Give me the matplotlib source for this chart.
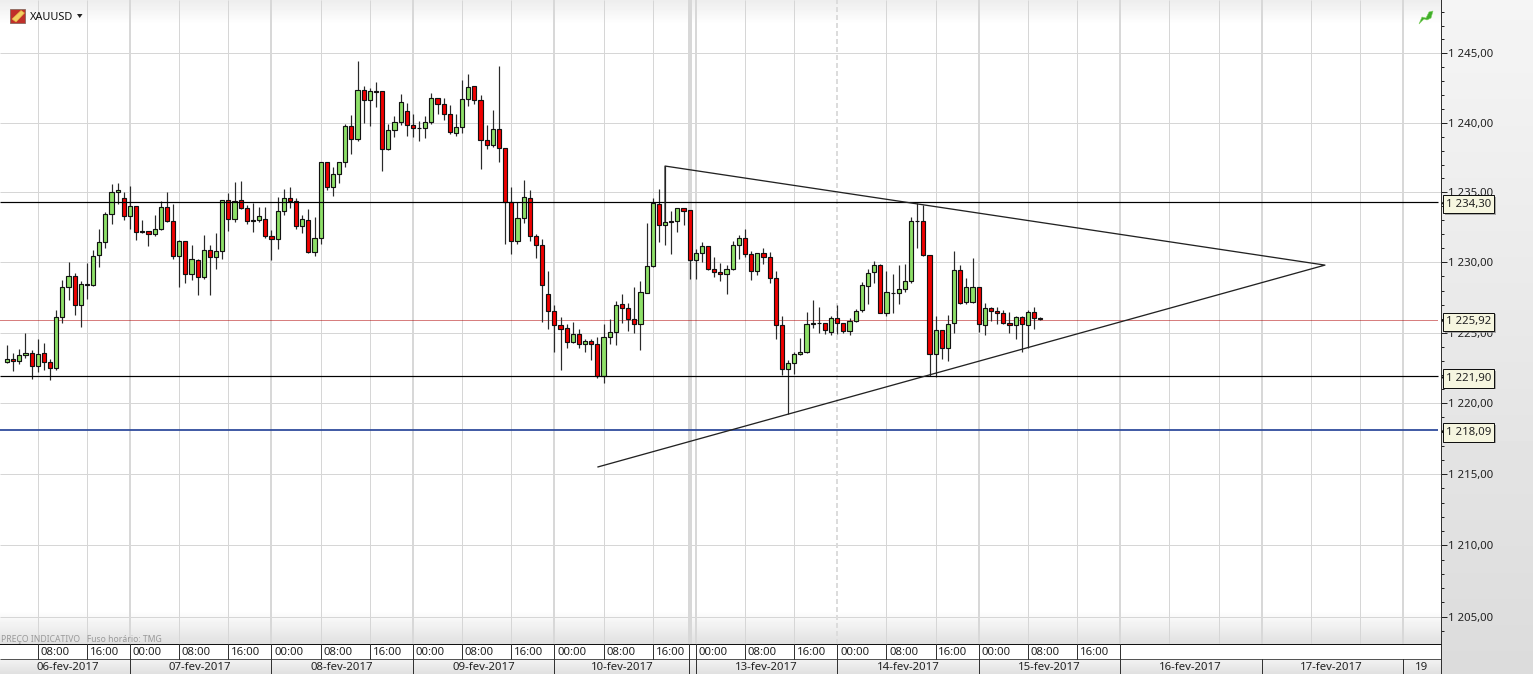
import matplotlib
matplotlib.use('Agg')
import matplotlib.pyplot as plt
import matplotlib.patches as mpatches
from matplotlib.ticker import NullFormatter
from matplotlib.transforms import blended_transform_factory
import numpy as np

plt.rcParams['font.family'] = ['Noto Sans', 'DejaVu Sans']

# hourly candles, G = up, R = down (market shut one hour a day, so 23 per day)
direction = ("GRGGRGRRGGGRGRGGGGGRGRRRGGRRGRGRGRGGRGRRRGRRGGRRGRGGRGG"
             "GRGRGRRGGGRRRGGRRRGGGRRRGRRRGGRRRRRRRGRGRRGGGRRRGGGRGRGRRG"
             "GRRRGGGRRGRRRRGGGGRRRGRRGGGGGRGRGGGRRRGRGGRGGRGRRRRGRGRR")

highs = [1224.11, 1223.59, 1223.87, 1224.96, 1223.78, 1224.54, 1224.25, 1223.12, 1226.60, 1228.73,
         1230.05, 1229.27, 1228.66, 1229.93, 1230.86, 1232.40, 1233.60, 1235.62, 1235.66, 1235.02,
         1235.45, 1234.03, 1233.04, 1232.25, 1233.39, 1234.36, 1235.02, 1234.17, 1231.62, 1231.54,
         1231.26, 1230.27, 1231.97, 1231.26, 1232.11, 1234.46, 1234.95, 1235.73, 1235.80, 1234.10,
         1234.24, 1233.96, 1233.96, 1232.28, 1234.67, 1235.26, 1235.38, 1234.60, 1233.39, 1233.82,
         1233.25, 1237.15, 1237.15, 1236.80, 1237.15, 1239.88, 1240.59, 1244.42, 1242.64, 1242.48,
         1242.90, 1242.27, 1239.92, 1240.49, 1242.05, 1241.41, 1240.63, 1240.14, 1240.49, 1242.12,
         1241.77, 1241.77, 1241.27, 1240.63, 1243.05, 1243.54, 1242.62, 1241.98, 1239.85, 1240.92,
         1244.11, 1238.22, 1235.38, 1234.34, 1235.88, 1235.17, 1232.06, 1231.69, 1229.41, 1226.99,
         1226.15, 1225.65, 1225.79, 1225.29, 1224.58, 1224.58, 1224.73, 1225.65, 1225.96, 1227.28,
         1227.78, 1227.14, 1228.28, 1228.70, 1232.82, 1234.60, 1235.24, 1236.87, 1233.67, 1233.89,
         1233.89, 1233.74, 1230.97, 1231.47, 1231.18, 1230.40, 1229.98, 1229.84, 1231.54, 1231.97,
         1232.39, 1230.83, 1230.69, 1231.04, 1230.76, 1229.41, 1226.21, 1223.09, 1223.66, 1224.65,
         1226.50, 1227.35, 1226.85, 1225.72, 1226.21, 1226.99, 1225.72, 1226.07, 1226.71, 1228.63,
         1229.55, 1230.12, 1229.89, 1229.41, 1229.20, 1229.84, 1229.91, 1233.24, 1234.24, 1234.10,
         1230.55, 1226.21, 1225.22, 1226.29, 1230.83, 1229.84, 1228.91, 1230.33, 1228.27, 1227.14,
         1226.85, 1226.85, 1226.64, 1226.50, 1226.21, 1226.21, 1226.64, 1226.85, 1226.14]

body_top = [1223.16, 1223.16, 1223.43, 1223.59, 1223.59, 1223.52, 1223.59, 1222.95, 1226.15, 1228.28,
            1229.06, 1229.06, 1228.49, 1228.49, 1230.48, 1231.47, 1233.46, 1235.02, 1235.17, 1234.57,
            1234.03, 1234.03, 1232.25, 1232.25, 1232.40, 1233.96, 1233.96, 1232.96, 1231.54, 1231.54,
            1230.27, 1230.20, 1230.91, 1230.91, 1230.83, 1234.46, 1234.46, 1234.39, 1234.46, 1233.89,
            1233.04, 1233.32, 1233.11, 1231.90, 1233.67, 1234.60, 1234.60, 1234.39, 1233.11, 1233.04,
            1231.76, 1237.15, 1237.15, 1236.30, 1237.15, 1239.78, 1239.78, 1242.34, 1242.34, 1242.27,
            1242.27, 1242.27, 1239.50, 1240.06, 1241.48, 1240.85, 1239.85, 1239.64, 1240.06, 1241.77,
            1241.77, 1241.34, 1240.63, 1239.71, 1241.70, 1242.55, 1242.62, 1241.63, 1238.79, 1239.57,
            1239.57, 1238.22, 1234.34, 1233.18, 1234.67, 1234.60, 1231.90, 1231.26, 1227.78, 1226.57,
            1225.58, 1225.37, 1224.94, 1224.94, 1224.44, 1224.44, 1224.23, 1224.73, 1225.08, 1227.00,
            1227.07, 1226.79, 1226.00, 1227.92, 1229.77, 1234.24, 1234.17, 1232.89, 1232.96, 1233.89,
            1233.89, 1233.74, 1230.69, 1231.18, 1231.18, 1229.55, 1229.34, 1229.55, 1231.26, 1231.75,
            1231.75, 1230.62, 1230.69, 1230.69, 1230.40, 1228.91, 1225.57, 1222.88, 1223.52, 1223.66,
            1225.65, 1225.72, 1225.72, 1225.72, 1226.07, 1226.07, 1225.72, 1225.86, 1226.57, 1228.42,
            1229.27, 1229.84, 1229.84, 1227.92, 1227.85, 1228.13, 1228.70, 1232.96, 1232.98, 1232.96,
            1230.55, 1225.22, 1225.22, 1225.65, 1229.48, 1229.48, 1228.27, 1228.27, 1228.27, 1226.78,
            1226.78, 1226.57, 1226.43, 1225.72, 1226.14, 1226.14, 1226.50, 1226.50, 1226.07]

body_bottom = [1222.95, 1223.02, 1223.02, 1223.43, 1222.64, 1222.64, 1222.95, 1222.50, 1222.50, 1226.15,
               1228.28, 1227.00, 1227.00, 1228.42, 1228.42, 1230.55, 1231.47, 1233.46, 1235.02, 1233.32,
               1233.32, 1232.18, 1232.18, 1232.04, 1232.04, 1232.40, 1232.96, 1230.48, 1230.48, 1229.20,
               1229.20, 1228.99, 1228.99, 1230.41, 1230.41, 1230.83, 1233.11, 1233.11, 1233.89, 1232.96,
               1232.96, 1233.04, 1231.90, 1231.69, 1231.69, 1233.67, 1234.39, 1232.61, 1232.61, 1230.76,
               1230.76, 1231.76, 1235.38, 1235.38, 1236.30, 1237.15, 1238.86, 1238.86, 1241.63, 1241.63,
               1242.20, 1238.08, 1238.08, 1239.50, 1240.06, 1239.85, 1239.64, 1239.62, 1239.64, 1240.06,
               1241.34, 1240.63, 1239.35, 1239.28, 1239.71, 1241.70, 1241.63, 1238.79, 1238.43, 1238.43,
               1238.22, 1234.34, 1231.54, 1231.54, 1233.18, 1231.90, 1231.26, 1228.42, 1226.57, 1225.58,
               1225.29, 1224.37, 1224.37, 1224.23, 1224.23, 1224.23, 1221.96, 1221.96, 1224.73, 1225.08,
               1226.79, 1226.00, 1225.65, 1225.65, 1227.85, 1229.77, 1232.68, 1232.68, 1232.89, 1232.96,
               1233.67, 1230.19, 1230.19, 1230.69, 1229.55, 1229.34, 1229.20, 1229.20, 1229.55, 1231.26,
               1230.62, 1229.41, 1229.41, 1230.40, 1228.91, 1225.57, 1222.45, 1222.45, 1222.88, 1223.52,
               1223.66, 1225.65, 1225.69, 1225.22, 1225.08, 1225.72, 1225.13, 1225.15, 1225.86, 1226.64,
               1228.34, 1229.34, 1226.43, 1226.43, 1227.82, 1227.85, 1228.13, 1228.70, 1232.94, 1230.55,
               1223.52, 1223.52, 1223.94, 1223.94, 1225.72, 1227.14, 1227.21, 1227.21, 1225.65, 1225.57,
               1226.57, 1226.40, 1225.72, 1225.57, 1225.57, 1225.65, 1225.57, 1226.07, 1226.00]

lows = [1222.83, 1222.29, 1222.81, 1223.19, 1221.74, 1222.22, 1222.36, 1221.65, 1222.36, 1225.72,
        1227.33, 1226.27, 1225.44, 1227.43, 1228.33, 1229.67, 1231.02, 1232.73, 1234.15, 1233.01,
        1232.37, 1231.59, 1232.09, 1231.17, 1231.90, 1232.33, 1232.89, 1230.27, 1228.25, 1228.54,
        1228.75, 1227.69, 1228.85, 1227.69, 1229.51, 1230.27, 1232.23, 1232.89, 1233.82, 1232.75,
        1232.16, 1232.87, 1231.76, 1230.17, 1230.95, 1233.39, 1233.89, 1232.40, 1232.09, 1230.67,
        1230.46, 1231.31, 1235.14, 1234.72, 1235.71, 1236.82, 1237.77, 1238.69, 1239.97, 1239.76,
        1241.11, 1236.56, 1238.01, 1238.98, 1239.83, 1239.05, 1238.98, 1238.69, 1238.90, 1239.92,
        1240.63, 1240.21, 1239.21, 1239.05, 1239.26, 1241.20, 1241.34, 1236.66, 1238.12, 1238.29,
        1237.20, 1231.33, 1230.62, 1231.33, 1232.82, 1231.52, 1230.31, 1225.79, 1225.29, 1223.66,
        1222.38, 1223.95, 1224.30, 1223.95, 1223.64, 1223.07, 1221.79, 1221.44, 1224.21, 1224.14,
        1225.72, 1225.15, 1225.01, 1223.80, 1227.85, 1229.70, 1231.45, 1231.24, 1230.62, 1232.16,
        1232.66, 1228.82, 1228.82, 1230.03, 1229.48, 1228.98, 1228.70, 1227.75, 1229.48, 1230.24,
        1230.38, 1228.75, 1229.10, 1229.88, 1228.53, 1224.58, 1222.02, 1219.25, 1222.05, 1223.45,
        1223.59, 1225.36, 1225.00, 1224.91, 1224.86, 1224.94, 1225.00, 1224.86, 1225.79, 1226.50,
        1227.07, 1228.56, 1226.43, 1226.21, 1226.43, 1227.07, 1227.92, 1228.56, 1231.02, 1230.47,
        1221.95, 1221.88, 1223.16, 1223.02, 1224.99, 1227.07, 1227.07, 1227.14, 1225.05, 1224.84,
        1225.86, 1225.65, 1225.60, 1224.98, 1224.58, 1223.66, 1223.94, 1225.29, 1225.92]

price_major = [1245, 1240, 1235, 1230, 1225, 1220, 1215, 1210, 1205]
price_minor = list(range(1204, 1249))
price_tags = [1234.30, 1225.92, 1221.90, 1218.09]

# triangle drawn on the chart (candle index, price)
triangle_x = [107, 107, 214.3, 96.1]
triangle_p = [1232.9, 1236.89, 1229.81, 1215.51]

# time axis, in candle index
time_pos = [5, 13, 20, 28, 36, 43, 51, 59, 66, 74, 82, 89, 97, 105,
            112, 120, 128, 135, 143, 151, 158, 166, 174]
time_labels = ['08:00', '16:00', '00:00', '08:00', '16:00', '00:00', '08:00', '16:00',
               '00:00', '08:00', '16:00', '00:00', '08:00', '16:00',
               '00:00', '08:00', '16:00', '00:00', '08:00', '16:00', '00:00', '08:00', '16:00']
empty_pos = [189, 197, 212, 220]
day_pos = [20, 43, 66, 89, 112, 135, 158, 181, 204, 227]
day_labels = ['06-fev-2017', '07-fev-2017', '08-fev-2017', '09-fev-2017', '10-fev-2017',
              '13-fev-2017', '14-fev-2017', '15-fev-2017', '16-fev-2017', '17-fev-2017', '19']
day_centers = [9.9, 31.4, 54.5, 77.5, 100.0, 123.4, 146.5, 169.5, 192.4, 215.4, 230.0]
weekend_pos = [110.9, 111.25]

W, H = 1533, 674
AX_R, AX_B = 1441, 644
X0, STEP = 7.0, 6.15
PX = 72 / 100  # one pixel in points
FS = 8.2

fig = plt.figure(figsize=(W / 100, H / 100), dpi=100)

# background gradients, pixel coordinates
bg = fig.add_axes([0, 0, 1, 1])
yy = np.arange(H)
chart_col = np.interp(yy, [0, 24, 610, 643, 644, 658, 659, 673], [0.93, 1, 1, 0.88, 1, 1, 0.95, 0.88])
side_col = np.interp(yy, [0, 673], [0.96, 0.86])
shade = np.tile(chart_col[:, None], (1, W))
shade[:, AX_R:] = side_col[:, None]
bg.imshow(shade, cmap='gray', vmin=0, vmax=1, extent=(0, W, H, 0), aspect='auto', interpolation='nearest')
bg.set_xlim(0, W)
bg.set_ylim(H, 0)
bg.axis('off')

ax = fig.add_axes([0, 1 - AX_B / H, AX_R / W, AX_B / H], zorder=2)
ax.patch.set_alpha(0)
ax.set_yscale('log')
ax.set_xlim(-X0 / STEP, (AX_R - X0) / STEP)
ax.set_ylim(1203.10, 1248.85)

ax.set_yticks(price_major)
ax.set_yticks(price_minor, minor=True)
ax.set_yticklabels([f'1 {p - 1000},00' for p in price_major])
ax.yaxis.set_minor_formatter(NullFormatter())
ax.yaxis.tick_right()
ax.tick_params(axis='y', which='major', length=6 * PX, width=PX, color='#222222', labelsize=FS,
               labelcolor='#222222', pad=0.6)
ax.tick_params(axis='y', which='minor', length=3 * PX, width=PX, color='#222222')
ax.set_xticks([])
for s in ['top', 'left']:
    ax.spines[s].set_visible(False)
ax.spines['right'].set_color('#333333')
ax.spines['right'].set_linewidth(PX)
ax.spines['bottom'].set_color('#111111')
ax.spines['bottom'].set_linewidth(PX)

# grid
xa = ax.get_xaxis_transform()
ax.hlines(price_major, ax.get_xlim()[0], ax.get_xlim()[1], color='#d6d6d6', lw=PX, zorder=0)
grid_thin = [t for t in time_pos if t not in day_pos] + empty_pos
ax.vlines(grid_thin, 0, 1, transform=xa, color='#d6d6d6', lw=PX, zorder=0)
ax.vlines([d for d in day_pos if d != 135] + weekend_pos, 0, 1, transform=xa, color='#d8d8d8', lw=2 * PX, zorder=0)
ax.vlines([135], 0, 1, transform=xa, color='#dcdcdc', lw=2 * PX, ls=(0, (2.5, 1.5)), zorder=0)

# candles
idx = np.arange(len(highs))
top = np.array(body_top)
bot = np.array(body_bottom)
ax.vlines(idx, lows, highs, color='#2a2a2a', lw=1.2 * PX, zorder=3)
face = ['#8ee068' if d == 'G' else '#f00000' for d in direction]
ax.bar(idx, top - bot, bottom=bot, width=0.68, color=face, edgecolor='#111111', linewidth=1.15 * PX, zorder=4)

# level lines stop short of the price axis
line_end = (1438 - X0) / STEP
ax.hlines([1234.30, 1221.90], ax.get_xlim()[0], line_end, color='black', lw=1.2 * PX, zorder=5)
ax.hlines([1218.09], ax.get_xlim()[0], line_end, color='#2f4b9c', lw=1.8 * PX, zorder=5)
ax.hlines([1225.92], ax.get_xlim()[0], line_end, color='#b00000', lw=PX, ls=(0, (1, 1)),
          capstyle='butt', zorder=2)
ax.plot(triangle_x, triangle_p, color='#222222', lw=1.3 * PX, zorder=5)

# pixel overlay for the price tags and the time and date rows
over = fig.add_axes([0, 0, 1, 1], zorder=3)
over.set_xlim(0, W)
over.set_ylim(H, 0)
over.axis('off')
strip = blended_transform_factory(ax.transData, over.transData)

for p in price_tags:
    py = H - ax.transData.transform((0, p))[1]
    over.add_patch(mpatches.Rectangle((1445, py - 5.5), 51, 18.4, fc='#8c8c8c', ec='none', alpha=0.7))
    over.add_patch(mpatches.Rectangle((1443.3, py - 7.2), 51, 18.4, fc='#f6f6e0', ec='#111111', lw=PX))
    over.add_patch(mpatches.Polygon([(1441.5, py + 1), (1443.5, py - 1), (1443.5, py + 3)], fc='#111111', ec='none'))
    over.text(1446, py + 2.2, f'1 {p - 1000:.2f}'.replace('.', ','), fontsize=FS, color='#222222',
              va='center', ha='left')

over.hlines(659, 0, AX_R, color='#555555', lw=PX)
over.vlines(AX_R, 644, H, color='#333333', lw=PX)
for x, lab in zip(time_pos, time_labels):
    over.plot([x, x], [644, 659], color='#333333', lw=PX, transform=strip)
    over.text(x + 0.45, 652.5, lab, transform=strip, fontsize=FS, color='#222222', va='center', ha='left')
for x, lab in zip(day_centers, day_labels):
    over.text(x, 667.5, lab, transform=strip, fontsize=FS, color='#222222', va='center', ha='center')
for x in day_pos + weekend_pos[:1]:
    over.plot([x, x], [659, H], color='#333333', lw=PX, transform=strip)
for x in [181] + weekend_pos[:1]:
    over.plot([x, x], [644, 659], color='#333333', lw=PX, transform=strip)

over.text(1, 639, 'PREÇO INDICATIVO   Fuso horário: TMG', fontsize=6.2, color='#999999', va='center', ha='left')

# symbol badge and menu arrow
over.add_patch(mpatches.Rectangle((10, 9), 15, 14, fc='#c0302a', ec='#8a6a60', lw=0.6))
over.add_patch(mpatches.Polygon([(12, 19), (21, 10.5), (24.5, 13), (16, 22)], fc='#f2d060', ec='#e0b040', lw=0.4))
over.text(30, 17, 'XAUUSD', fontsize=7.9, color='#111111', va='center', ha='left')
over.add_patch(mpatches.Polygon([(77, 14), (82.5, 14), (79.7, 18)], fc='#222222', ec='none'))

# green status arrow, top right
over.add_patch(mpatches.Polygon([(1419, 24), (1422, 17), (1426, 18), (1429, 12), (1433, 11),
                                 (1431, 18), (1427, 20), (1424, 19)], fc='#3fae2a', ec='#7fd060', lw=0.4))

fig.savefig('out.png', dpi=100)
